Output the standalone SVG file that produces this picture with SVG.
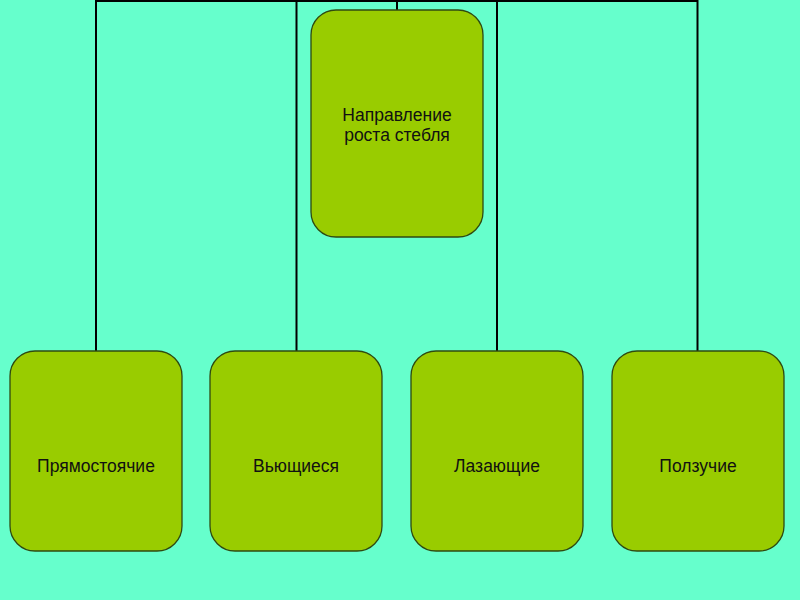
<svg xmlns="http://www.w3.org/2000/svg" width="800" height="600" viewBox="0 0 800 600">
<style>
.n rect{fill:#99CC00;stroke:#2f4a10;stroke-width:1.3}
.n text{font-family:"Liberation Sans",Arial,sans-serif;font-size:17.5px;fill:#111;text-anchor:middle}
.c{fill:none;stroke:#000;stroke-width:2}
</style>
<rect width="800" height="600" fill="#66FFCC"/>
<g id="connectors">
<path class="c" d="M96,351 V1 H697.5 V351"/>
<path class="c" d="M296.5,351 V1"/>
<path class="c" d="M497,351 V1"/>
<path class="c" d="M397,10 V1"/>
</g>
<g id="root" class="n">
<rect x="311" y="10" width="172" height="227" rx="25" ry="25"/>
<text x="397" y="121">Направление</text>
<text x="397" y="141">роста стебля</text>
</g>
<g id="n1" class="n">
<rect x="10" y="351" width="172" height="200" rx="25" ry="25"/>
<text x="96" y="472">Прямостоячие</text>
</g>
<g id="n2" class="n">
<rect x="210" y="351" width="172" height="200" rx="25" ry="25"/>
<text x="296" y="472">Вьющиеся</text>
</g>
<g id="n3" class="n">
<rect x="411" y="351" width="172" height="200" rx="25" ry="25"/>
<text x="497" y="472">Лазающие</text>
</g>
<g id="n4" class="n">
<rect x="612" y="351" width="172" height="200" rx="25" ry="25"/>
<text x="698" y="472">Ползучие</text>
</g>
</svg>
